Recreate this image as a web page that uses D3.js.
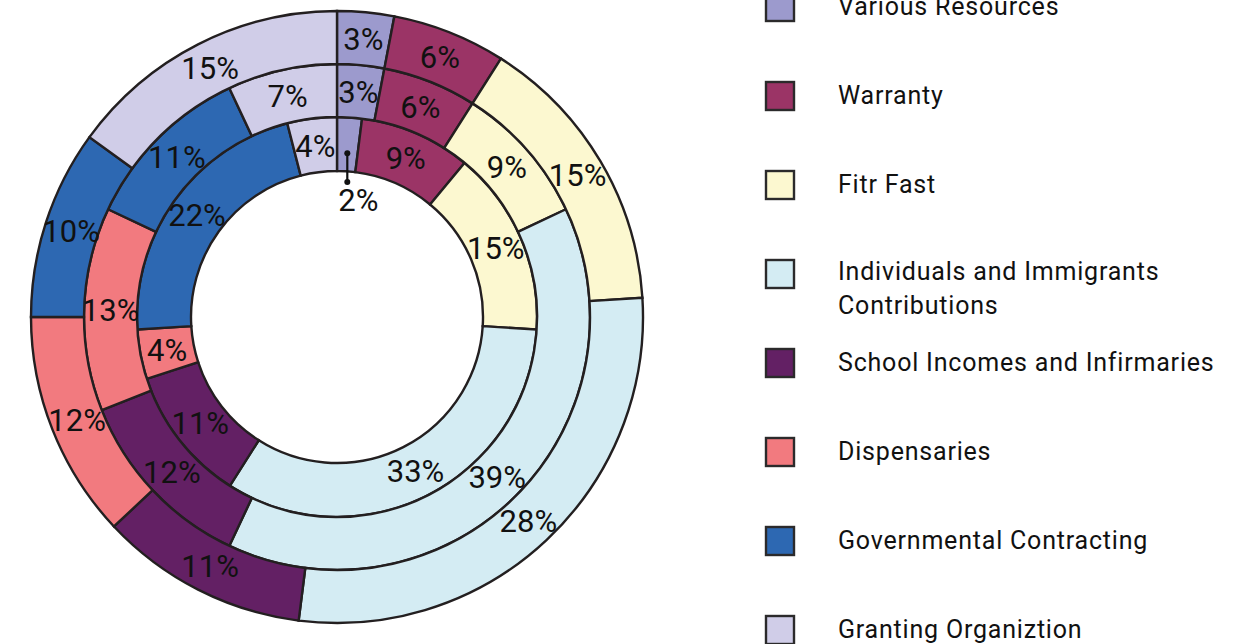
<!DOCTYPE html>
<html>
<head>
<meta charset="utf-8">
<script src="https://cdn.jsdelivr.net/npm/d3@7"></script>
<style>
  body { margin: 0; background: #fff; }
  text { font-family: Roboto, "Noto Sans", sans-serif; fill: #111; }
</style>
</head>
<body>
<svg id="chart" width="1247" height="644"></svg>
<script>
// categories, clockwise from 12 o'clock
var categories = ["Various Resources", "Warranty", "Fitr Fast",
  "Individuals and Immigrants Contributions", "School Incomes and Infirmaries",
  "Dispensaries", "Governmental Contracting", "Granting Organiztion"];
var colors = ["#9c9acd", "#9b3466", "#fcf8d0", "#d4ecf3", "#632064", "#f27a7f", "#2d68b2", "#d0cde8"];

// percentages per ring
var innerRing  = [2, 9, 15, 33, 11, 4, 22, 4];
var middleRing = [3, 6, 9, 39, 12, 13, 11, 7];
var outerRing  = [3, 6, 15, 28, 11, 12, 10, 15];

var rings = [
  { values: innerRing,  r0: 146, r1: 200 },
  { values: middleRing, r0: 200, r1: 253 },
  { values: outerRing,  r0: 253, r1: 306 }
];

var svg = d3.select("#chart"),
    cx = 337, cy = 317;

var pie = d3.pie().sort(null).value(function(d) { return d; });

var g = svg.append("g").attr("transform", "translate(" + cx + "," + cy + ")");

rings.forEach(function(ring, ri) {
  var arc = d3.arc().innerRadius(ring.r0).outerRadius(ring.r1),
      arcs = pie(ring.values);
  var rg = g.append("g").attr("class", "ring" + ri);
  rg.selectAll("path").data(arcs).enter().append("path")
    .attr("d", arc)
    .attr("fill", function(d, i) { return colors[i]; })
    .attr("stroke", "#231f20")
    .attr("stroke-width", 2.4);

  rg.selectAll("text").data(arcs).enter().append("text")
    .filter(function(d) { return d.value >= 3; })
    .attr("transform", function(d) { return "translate(" + arc.centroid(d) + ")"; })
    .attr("text-anchor", "middle")
    .attr("dy", "0.36em")
    .style("font-size", "31px")
    .text(function(d) { return d.value + "%"; });

  // small slice: leader line into the hole
  arcs.filter(function(d) { return d.value < 3; }).forEach(function(d) {
    var a = (d.startAngle + d.endAngle) / 2,
        r = ring.r0 + 18,
        x = Math.sin(a) * r, y = -Math.cos(a) * r,
        y2 = -ring.r0 + 11;
    rg.append("line").attr("x1", x).attr("y1", y).attr("x2", x).attr("y2", y2)
      .attr("stroke", "#111").attr("stroke-width", 2.2);
    rg.append("circle").attr("cx", x).attr("cy", y).attr("r", 3).attr("fill", "#111");
    rg.append("circle").attr("cx", x).attr("cy", y2).attr("r", 3).attr("fill", "#111");
    rg.append("text").attr("x", x + 11).attr("y", y2 + 29)
      .attr("text-anchor", "middle")
      .style("font-size", "31px")
      .text(d.value + "%");
  });
});

// legend
var legend = svg.append("g").attr("transform", "translate(766,6)");
var item = legend.selectAll("g").data(categories).enter().append("g")
  .attr("transform", function(d, i) { return "translate(0," + (i * 89) + ")"; });

item.append("rect")
  .attr("x", 0).attr("y", -13).attr("width", 28).attr("height", 28)
  .attr("fill", function(d, i) { return colors[i]; })
  .attr("stroke", "#2b2a2b").attr("stroke-width", 2.4);

item.append("text")
  .attr("x", 72)
  .attr("y", function(d) { return d.length > 36 ? -2 : 0; })
  .attr("dy", "0.36em")
  .style("font-size", "25px")
  .style("letter-spacing", "0.8px")
  .each(function(d) {
    var t = d3.select(this);
    if (d.length > 36) {
      t.append("tspan").attr("x", 72).text("Individuals and Immigrants");
      t.append("tspan").attr("x", 72).attr("dy", "1.36em").text("Contributions");
    } else {
      t.text(d);
    }
  });
</script>
</body>
</html>
